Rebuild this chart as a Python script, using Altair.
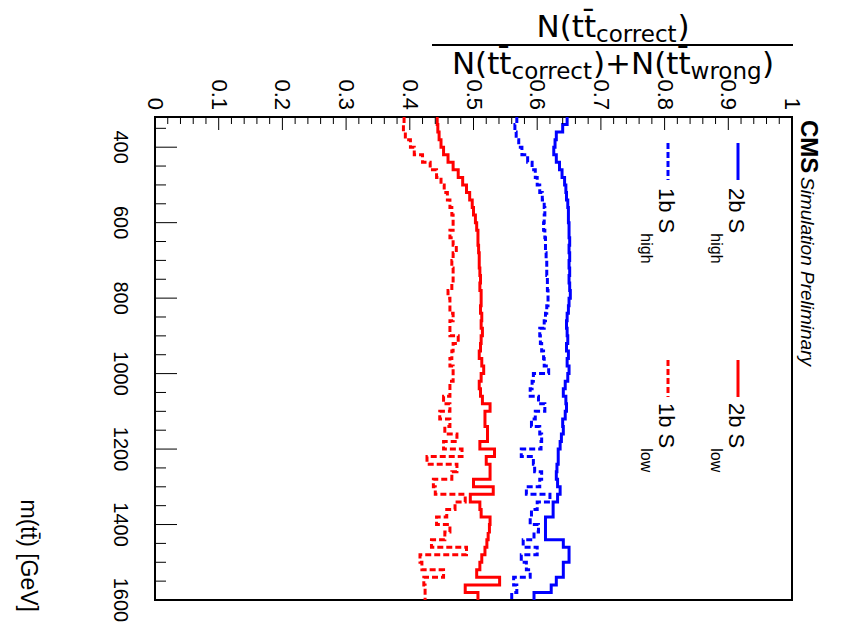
import altair as alt
import pandas as pd

# ---------------- data ----------------
bin_edges = list(range(320, 1601, 20))  # m(tt) bin edges [GeV]

two_b_high = [0.647, 0.640, 0.630, 0.628, 0.626, 0.630, 0.635, 0.639, 0.643, 0.645,
              0.646, 0.648, 0.649, 0.649, 0.650, 0.650, 0.651, 0.650, 0.651, 0.650,
              0.651, 0.650, 0.651, 0.652, 0.650, 0.649, 0.647, 0.646, 0.647, 0.648,
              0.646, 0.649, 0.647, 0.650, 0.648, 0.644, 0.641, 0.645, 0.646, 0.644,
              0.640, 0.641, 0.638, 0.636, 0.633, 0.633, 0.631, 0.630, 0.632, 0.636,
              0.632, 0.625, 0.625, 0.613, 0.613, 0.613, 0.641, 0.650, 0.650, 0.641,
              0.641, 0.630, 0.622, 0.595]

one_b_high = [0.568, 0.565, 0.567, 0.571, 0.576, 0.585, 0.592, 0.597, 0.600, 0.604,
              0.608, 0.611, 0.612, 0.611, 0.610, 0.612, 0.613, 0.613, 0.614, 0.615,
              0.615, 0.616, 0.616, 0.617, 0.617, 0.615, 0.613, 0.611, 0.604, 0.605,
              0.607, 0.610, 0.611, 0.618, 0.594, 0.592, 0.589, 0.602, 0.612, 0.597,
              0.591, 0.604, 0.607, 0.606, 0.575, 0.594, 0.596, 0.607, 0.604, 0.583,
              0.620, 0.600, 0.591, 0.589, 0.602, 0.595, 0.578, 0.600, 0.575, 0.583,
              0.589, 0.563, 0.568, 0.560]

two_b_low = [0.443, 0.444, 0.446, 0.449, 0.453, 0.460, 0.468, 0.476, 0.483, 0.489,
             0.494, 0.498, 0.500, 0.503, 0.505, 0.507, 0.507, 0.508, 0.509, 0.509,
             0.510, 0.511, 0.510, 0.512, 0.512, 0.511, 0.513, 0.512, 0.514, 0.512,
             0.511, 0.509, 0.513, 0.516, 0.512, 0.509, 0.511, 0.514, 0.526, 0.518,
             0.518, 0.522, 0.522, 0.510, 0.533, 0.520, 0.526, 0.526, 0.500, 0.531,
             0.495, 0.510, 0.512, 0.526, 0.525, 0.523, 0.521, 0.518, 0.513, 0.510,
             0.505, 0.541, 0.487, 0.507]

one_b_low = [0.391, 0.390, 0.393, 0.401, 0.407, 0.420, 0.432, 0.442, 0.449, 0.454,
             0.459, 0.463, 0.466, 0.468, 0.468, 0.463, 0.468, 0.473, 0.468, 0.466,
             0.468, 0.468, 0.466, 0.460, 0.463, 0.463, 0.468, 0.463, 0.463, 0.476,
             0.468, 0.466, 0.463, 0.468, 0.468, 0.463, 0.463, 0.453, 0.463, 0.447,
             0.463, 0.455, 0.474, 0.453, 0.482, 0.427, 0.474, 0.466, 0.437, 0.440,
             0.487, 0.471, 0.458, 0.442, 0.463, 0.455, 0.434, 0.489, 0.416, 0.419,
             0.453, 0.422, 0.424, 0.424]

series_names = ["2b S_high", "1b S_high", "2b S_low", "1b S_low"]
series_values = [two_b_high, one_b_high, two_b_low, one_b_low]
series_colors = ["#0000ff", "#0000ff", "#ff0000", "#ff0000"]
series_dash = [[1, 0], [6, 3], [1, 0], [6, 3]]

frac_ticks = [0, 0.1, 0.2, 0.3, 0.4, 0.5, 0.6, 0.7, 0.8, 0.9, 1]
frac_labels = ["0", "0.1", "0.2", "0.3", "0.4", "0.5", "0.6", "0.7", "0.8", "0.9", "1"]
frac_minor = [i / 50 for i in range(51) if i % 5 != 0]
mass_ticks = [400, 600, 800, 1000, 1200, 1400, 1600]
mass_labels = ["400", "600", "800", "1000", "1200", "1400", "1600"]
mass_minor = [m for m in range(350, 1600, 50) if m % 200 != 0]

# step-histogram vertices built from bins
rows = []
for name, vals in zip(series_names, series_values):
    for i, v in enumerate(vals):
        rows.append({"series": name, "frac": v, "mass": bin_edges[i], "idx": 2 * i})
        rows.append({"series": name, "frac": v, "mass": bin_edges[i + 1], "idx": 2 * i + 1})
hist_df = pd.DataFrame(rows)

# ---------------- layout ----------------
OX, OY = 155, 117          # plot-area origin on the page
W, H = 637, 483

xscale = alt.Scale(domain=[0, 1], nice=False, zero=False)
yscale = alt.Scale(domain=[320, 1600], nice=False, zero=False, reverse=True)

hist = alt.Chart(hist_df).mark_line(strokeWidth=3).encode(
    x=alt.X("frac:Q", scale=xscale, axis=None),
    y=alt.Y("mass:Q", scale=yscale, axis=None),
    color=alt.Color("series:N", scale=alt.Scale(domain=series_names, range=series_colors), legend=None),
    strokeDash=alt.StrokeDash("series:N", scale=alt.Scale(domain=series_names, range=series_dash), legend=None),
    detail="series:N",
    order="idx:Q",
)

def yticks(vals, length):
    return alt.Chart(pd.DataFrame({"mass": vals})).mark_rule(color="black", strokeWidth=1).encode(
        y=alt.Y("mass:Q", scale=yscale, axis=None), x=alt.value(0), x2=alt.value(length))

def xticks(vals, length):
    return alt.Chart(pd.DataFrame({"frac": vals})).mark_rule(color="black", strokeWidth=1).encode(
        x=alt.X("frac:Q", scale=xscale, axis=None), y=alt.value(0), y2=alt.value(length))

frac_lab_layer = alt.Chart(pd.DataFrame({"frac": frac_ticks, "label": frac_labels})).mark_text(
    angle=90, align="right", baseline="middle", fontSize=22, font="Liberation Sans", color="black"
).encode(x=alt.X("frac:Q", scale=xscale, axis=None), y=alt.value(-7), text="label:N")

mass_lab_layer = alt.Chart(pd.DataFrame({"mass": mass_ticks, "label": mass_labels})).mark_text(
    angle=90, align="center", baseline="top", fontSize=20, font="Liberation Sans", color="black"
).encode(y=alt.Y("mass:Q", scale=yscale, axis=None), x=alt.value(-25), text="label:N")

one = pd.DataFrame({"k": [0]})

def txt(s, x, y, size, angle=0, align="left", baseline="alphabetic",
        font="Liberation Sans", weight="normal", style="normal"):
    return alt.Chart(one).mark_text(text=s, fontSize=size, angle=angle, align=align,
                                    baseline=baseline, font=font, fontWeight=weight,
                                    fontStyle=style, color="black").encode(
        x=alt.value(x - OX), y=alt.value(y - OY))

def seg(x1, y1, x2, y2, color="black", width=2, dash=None):
    kw = dict(color=color, strokeWidth=width)
    if dash:
        kw["strokeDash"] = dash
    return alt.Chart(one).mark_rule(**kw).encode(
        x=alt.value(x1 - OX), y=alt.value(y1 - OY), x2=alt.value(x2 - OX), y2=alt.value(y2 - OY))

tbar = "t\u0304"
TF = "DejaVu Sans"
layers = [hist, yticks(mass_ticks, 22), yticks(mass_minor, 11), xticks(frac_ticks, 13),
          xticks(frac_minor, 7), frac_lab_layer, mass_lab_layer]

# fraction axis title (numerator / denominator)
layers += [
    txt("N(t" + tbar, 536.5, 37, 31, font=TF),
    txt("correct", 596.1, 42, 23, font=TF),
    txt(")", 677.5, 37, 31, font=TF),
    seg(432, 45, 793, 45, width=2),
    txt("N(t" + tbar, 451.9, 74, 31, font=TF),
    txt("correct", 511.5, 79, 23, font=TF),
    txt(")+N(t" + tbar, 592.9, 74, 31, font=TF),
    txt("wrong", 690.6, 79, 23, font=TF),
    txt(")", 762.1, 74, 31, font=TF),
]

# mass axis title
layers.append(txt("m(t" + tbar + ") [GeV]", 21, 612, 23, angle=90, align="right"))

# CMS label
layers += [
    txt("CMS", 801, 120, 24, angle=90, weight="bold"),
    txt("Simulation Preliminary", 801, 177, 19, angle=90, style="italic"),
]

# legend
layers += [
    seg(738, 143, 738, 180, color="#0000ff", width=3),
    seg(668, 143, 668, 180, color="#0000ff", width=3, dash=[6, 3]),
    seg(738, 360, 738, 397, color="#ff0000", width=3),
    seg(668, 360, 668, 397, color="#ff0000", width=3, dash=[6, 3]),
    txt("2b S", 729, 188, 22, angle=90), txt("high", 711, 233.3, 16, angle=90),
    txt("1b S", 659, 188, 22, angle=90), txt("high", 641, 233.3, 16, angle=90),
    txt("2b S", 729, 403, 22, angle=90), txt("low", 711, 448.3, 16, angle=90),
    txt("1b S", 659, 403, 22, angle=90), txt("low", 641, 448.3, 16, angle=90),
]

chart = alt.layer(*layers).properties(
    width=W, height=H,
    autosize=alt.AutoSizeParams(type="none"),
    padding={"left": OX - 8, "top": OY - 8, "right": 40, "bottom": 24},
).configure_view(stroke="black", strokeWidth=2)

chart.save("out.html", embed_options={"renderer": "svg", "actions": False})
